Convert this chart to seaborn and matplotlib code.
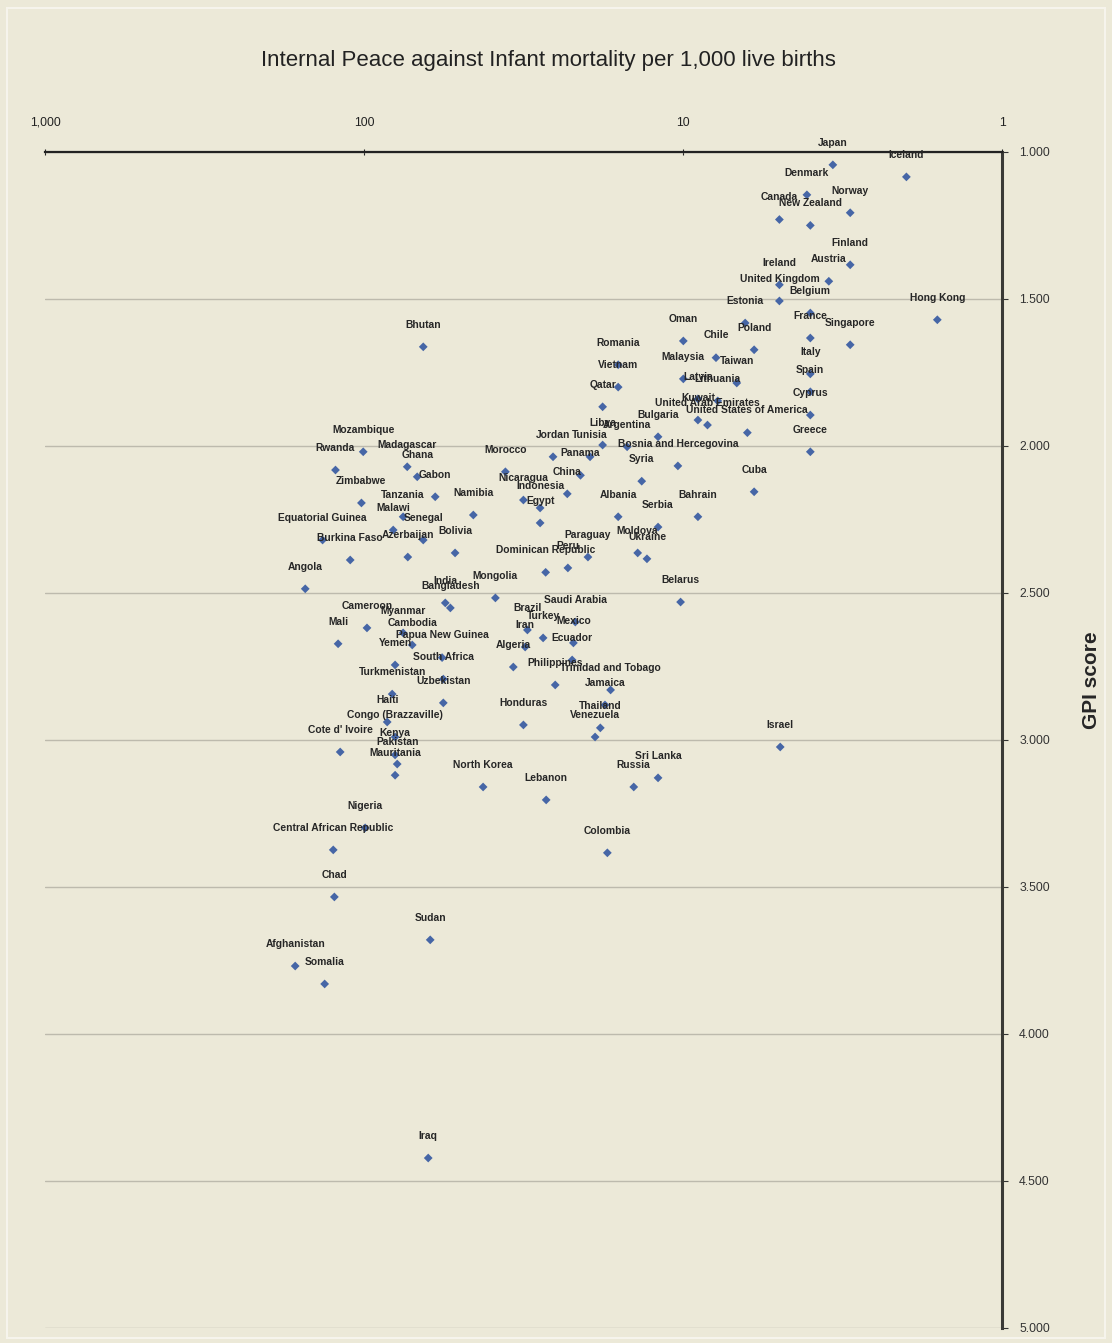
import matplotlib
matplotlib.use("Agg")
import matplotlib.pyplot as plt
import seaborn as sns
import pandas as pd
from matplotlib.ticker import FixedLocator, NullLocator
from matplotlib.patches import Rectangle

# data: infant mortality (per 1,000 live births) and GPI score
countries = [
    "Japan", "Iceland", "Denmark", "Norway", "Canada", "New Zealand", "Finland",
    "Ireland", "Austria", "United Kingdom", "Belgium", "Estonia", "France",
    "Hong Kong", "Poland", "Singapore", "Oman", "Chile", "Romania", "Vietnam",
    "Malaysia", "Taiwan", "Italy", "Spain", "Qatar", "Latvia", "Lithuania",
    "Cyprus", "Kuwait", "United Arab Emirates", "United States of America",
    "Bulgaria", "Libya", "Argentina", "Jordan", "Tunisia",
    "Bosnia and Hercegovina", "Greece", "Panama", "Syria", "Cuba", "China",
    "Albania", "Bahrain", "Serbia", "Moldova", "Ukraine", "Belarus", "Paraguay",
    "Peru", "Dominican Republic", "Morocco", "Nicaragua", "Indonesia", "Egypt",
    "Namibia", "Bhutan", "Mozambique", "Madagascar", "Ghana", "Rwanda",
    "Zimbabwe", "Gabon", "Tanzania", "Malawi", "Senegal", "Equatorial Guinea",
    "Burkina Faso", "Azerbaijan", "Bolivia", "Angola", "Mongolia", "India",
    "Bangladesh", "Saudi Arabia", "Brazil", "Turkey", "Mexico", "Iran",
    "Ecuador", "Algeria", "Philippines", "Trinidad and Tobago", "Jamaica",
    "Thailand", "Venezuela", "Honduras", "Cameroon", "Myanmar", "Mali",
    "Cambodia", "Papua New Guinea", "Yemen", "South Africa", "Turkmenistan",
    "Uzbekistan", "Haiti", "Congo (Brazzaville)", "Cote d' Ivoire", "Kenya",
    "Pakistan", "Mauritania", "North Korea", "Lebanon", "Russia", "Sri Lanka",
    "Israel", "Nigeria", "Central African Republic", "Colombia", "Chad",
    "Sudan", "Afghanistan", "Somalia", "Iraq",
]
infant_mortality = [
    3.4, 2.0, 4.1, 3.0, 5.0, 4.0, 3.0,
    5.0, 3.5, 5.0, 4.0, 6.4, 4.0,
    1.6, 6.0, 3.0, 10.0, 7.9, 16.0, 16.0,
    10.0, 6.8, 4.0, 4.0, 17.9, 9.0, 7.8,
    4.0, 9.0, 8.4, 6.3,
    12.0, 17.9, 15.0, 25.6, 19.6,
    10.4, 4.0, 21.0, 13.5, 6.0, 23.1,
    16.0, 9.0, 12.0, 13.9, 13.0, 10.2, 19.9,
    23.0, 27.0, 36.1, 31.7, 28.1, 28.1,
    45.5, 65.3, 100.7, 73.3, 68.2, 123.0,
    102.0, 59.9, 75.5, 81.1, 65.3, 135.0,
    110.6, 73.0, 51.9, 153.0, 38.8, 55.7,
    53.7, 21.8, 30.8, 27.5, 22.1, 31.3,
    22.3, 34.1, 25.2, 16.9, 17.6,
    18.2, 18.9, 31.7, 98.0, 75.5, 120.7,
    70.7, 57.0, 80.0, 56.5, 81.7,
    56.5, 84.7, 80.0, 118.9, 80.0,
    78.8, 80.0, 42.4, 26.9, 14.3, 12.0,
    4.97, 99.3, 125.0, 17.3, 124.0,
    62.1, 164.5, 133.0, 63.0,
]
gpi_score = [
    1.044, 1.085, 1.146, 1.207, 1.23, 1.25, 1.384,
    1.452, 1.44, 1.507, 1.548, 1.582, 1.633,
    1.571, 1.673, 1.656, 1.643, 1.70, 1.724, 1.80,
    1.772, 1.786, 1.755, 1.816, 1.867, 1.84, 1.847,
    1.895, 1.912, 1.929, 1.955,
    1.969, 1.997, 2.003, 2.037, 2.037,
    2.068, 2.02, 2.10, 2.12, 2.156, 2.163,
    2.241, 2.241, 2.276, 2.364, 2.384, 2.531, 2.378,
    2.415, 2.43, 2.088, 2.184, 2.211, 2.262,
    2.235, 1.663, 2.02, 2.071, 2.105, 2.082,
    2.194, 2.173, 2.241, 2.286, 2.32, 2.32,
    2.388, 2.378, 2.364, 2.486, 2.517, 2.534,
    2.551, 2.599, 2.626, 2.653, 2.67, 2.684,
    2.728, 2.752, 2.813, 2.83, 2.881,
    2.959, 2.99, 2.949, 2.619, 2.636, 2.673,
    2.677, 2.72, 2.745, 2.793, 2.844,
    2.874, 2.939, 2.99, 3.041, 3.051,
    3.082, 3.12, 3.16, 3.204, 3.16, 3.129,
    3.024, 3.299, 3.374, 3.384, 3.534,
    3.68, 3.769, 3.83, 4.422,
]

x_ticks = [1000, 100, 10, 1]
x_tick_labels = ["1,000", "100", "10", "1"]
y_ticks = [1.0, 1.5, 2.0, 2.5, 3.0, 3.5, 4.0, 4.5, 5.0]

df = pd.DataFrame({"country": countries, "infant": infant_mortality, "gpi": gpi_score})

sns.set_style("white")
plt.rcParams["font.family"] = ["Liberation Sans", "DejaVu Sans"]

bg = "#ece9d8"
fig = plt.figure(figsize=(11.12, 13.43), dpi=100, facecolor=bg)
fig.patches.append(Rectangle((0.006, 0.004), 0.988, 0.99, transform=fig.transFigure,
                             fill=False, edgecolor="#f6f4ec", lw=1.5))
ax = fig.add_axes([0.0405, 0.0112, 0.861, 0.8757])
ax.set_facecolor(bg)

sns.scatterplot(data=df, x="infant", y="gpi", marker="D", s=20, color="#4666a6",
                edgecolor="none", ax=ax, zorder=3, legend=False)

for _, row in df.iterrows():
    ax.annotate(row["country"], (row["infant"], row["gpi"]), xytext=(0, 16),
                textcoords="offset points", ha="center", va="center",
                fontsize=7.4, fontweight="bold", color="#262626", zorder=4)

ax.set_xscale("log")
ax.set_xlim(1000, 1)
ax.set_ylim(5, 1)
ax.xaxis.set_major_locator(FixedLocator(x_ticks))
ax.xaxis.set_minor_locator(NullLocator())
ax.set_xticks(x_ticks)
ax.set_xticklabels(x_tick_labels)
ax.set_yticks(y_ticks)
ax.set_yticklabels([f"{v:.3f}" for v in y_ticks])

ax.yaxis.grid(True, color="#bdbaad", lw=1)
ax.xaxis.grid(False)
ax.set_axisbelow(True)

for side in ["left", "bottom"]:
    ax.spines[side].set_visible(False)
ax.spines["top"].set_color("#222222")
ax.spines["top"].set_linewidth(1.6)
ax.spines["right"].set_color("#3a3a36")
ax.spines["right"].set_linewidth(2.2)

ax.tick_params(axis="x", top=True, bottom=False, labeltop=True, labelbottom=False,
               direction="inout", length=5, pad=14, labelsize=8.8, colors="#222222")
ax.tick_params(axis="y", right=True, left=False, labelright=True, labelleft=False,
               direction="out", length=4, pad=8, labelsize=8.8, colors="#333333")

ax.set_xlabel("")
ax.yaxis.set_label_position("right")
ax.set_ylabel("GPI score", fontsize=15, fontweight="bold")
ax.yaxis.set_label_coords(1.083, 0.551)

fig.text(0.493, 0.955, "Internal Peace against Infant mortality per 1,000 live births",
         ha="center", va="center", fontsize=16, color="#222222")

fig.savefig("out.png", dpi=100, facecolor=bg)
